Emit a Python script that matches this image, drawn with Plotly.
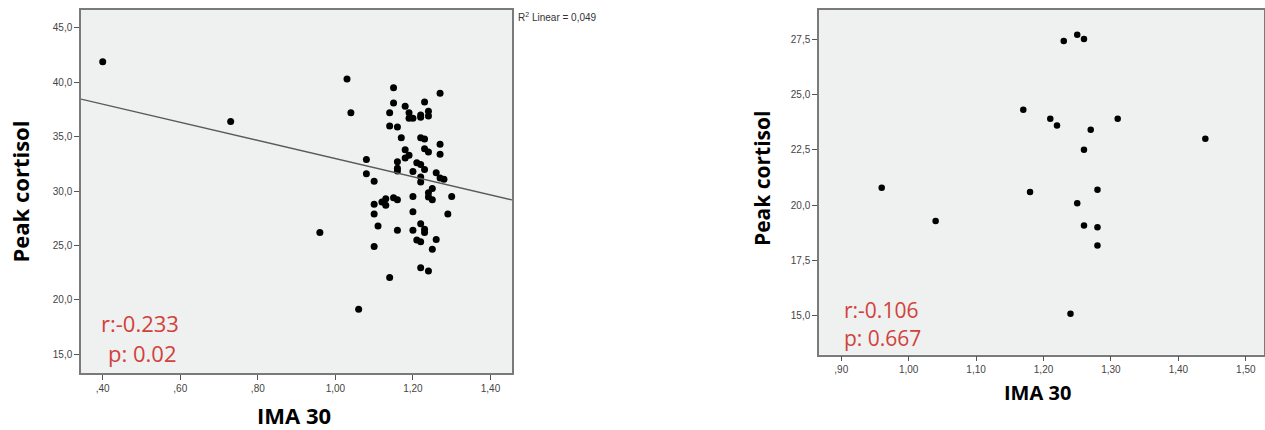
import numpy as np
import plotly.graph_objects as go

# ---------------- data: left panel (all patients) ----------------
left_ima = [0.40, 0.73, 0.96, 1.03, 1.04, 1.06, 1.08, 1.08, 1.10, 1.10,
            1.10, 1.10, 1.11, 1.12, 1.13, 1.13, 1.14, 1.14, 1.14, 1.15,
            1.15, 1.15, 1.16, 1.16, 1.16, 1.16, 1.16, 1.16, 1.17, 1.18,
            1.18, 1.18, 1.19, 1.19, 1.19, 1.20, 1.20, 1.20, 1.20, 1.20,
            1.21, 1.21, 1.22, 1.22, 1.22, 1.22, 1.22, 1.22, 1.22, 1.22,
            1.22, 1.23, 1.23, 1.23, 1.23, 1.23, 1.23, 1.24, 1.24, 1.24,
            1.24, 1.24, 1.24, 1.25, 1.25, 1.25, 1.26, 1.26, 1.27, 1.27,
            1.27, 1.27, 1.28, 1.29, 1.30]
left_cortisol = [41.9, 36.4, 26.2, 40.3, 37.2, 19.15, 32.9, 31.6, 30.9, 28.8,
                 27.9, 24.9, 26.8, 29.0, 29.3, 28.7, 37.2, 36.0, 22.05, 39.5,
                 38.1, 29.4, 35.9, 32.7, 32.1, 31.85, 29.2, 26.4, 34.9, 37.8,
                 33.8, 33.05, 37.2, 36.7, 33.3, 36.7, 31.8, 29.5, 28.1, 26.4,
                 32.6, 25.5, 37.0, 36.8, 34.9, 32.45, 31.3, 30.85, 27.0, 25.35,
                 22.95, 38.2, 34.8, 33.9, 32.0, 26.5, 26.2, 37.35, 36.9, 33.6,
                 29.85, 29.45, 22.65, 30.25, 29.2, 24.65, 31.7, 25.55, 39.0, 34.3,
                 33.4, 31.2, 31.1, 27.9, 29.5]

# ---------------- data: right panel (subgroup) ----------------
right_ima = [1.23, 1.25, 1.26, 1.17, 1.21, 1.22, 1.27, 1.31, 1.44, 1.26,
             0.96, 1.18, 1.28, 1.25, 1.04, 1.26, 1.28, 1.28, 1.24]
right_cortisol = [27.41, 27.69, 27.5, 24.31, 23.9, 23.6, 23.41, 23.9, 23.0, 22.5,
                  20.79, 20.59, 20.7, 20.09, 19.28, 19.08, 19.0, 18.18, 15.1]

# ---------------- ticks ----------------
left_xticks = [0.40, 0.60, 0.80, 1.00, 1.20, 1.40]
left_xticktext = [",40", ",60", ",80", "1,00", "1,20", "1,40"]
left_yticks = [15, 20, 25, 30, 35, 40, 45]
left_yticktext = ["15,0", "20,0", "25,0", "30,0", "35,0", "40,0", "45,0"]

right_xticks = [0.90, 1.00, 1.10, 1.20, 1.30, 1.40, 1.50]
right_xticktext = [",90", "1,00", "1,10", "1,20", "1,30", "1,40", "1,50"]
right_yticks = [15, 17.5, 20, 22.5, 25, 27.5]
right_yticktext = ["15,0", "17,5", "20,0", "22,5", "25,0", "27,5"]

left_stats = ["r:-0.233", "p: 0.02"]
right_stats = ["r:-0.106", "p: 0.667"]
fit_label = "R<sup>2</sup> Linear = 0,049"

W, H = 1265, 430
def px(x):
    return x / W
def py(y):
    return 1 - y / H

left_xrange = [0.344, 1.4555]
left_yrange = [13.28, 46.7]
right_xrange = [0.867, 1.527]
right_yrange = [13.25, 28.81]

# regression line from the left-panel data
slope, intercept = np.polyfit(left_ima, left_cortisol, 1)
fit_x = np.array(left_xrange)
fit_y = intercept + slope * fit_x

fig = go.Figure()
fig.add_trace(go.Scatter(x=left_ima, y=left_cortisol, mode="markers",
                         marker=dict(color="black", size=7),
                         xaxis="x", yaxis="y", showlegend=False))
fig.add_trace(go.Scatter(x=fit_x, y=fit_y, mode="lines",
                         line=dict(color="#5a5a5a", width=1.3),
                         xaxis="x", yaxis="y", showlegend=False))
fig.add_trace(go.Scatter(x=right_ima, y=right_cortisol, mode="markers",
                         marker=dict(color="black", size=6.5),
                         xaxis="x2", yaxis="y2", showlegend=False))

tickfont = dict(family="Liberation Sans, Arial, sans-serif", size=10, color="#444444")
axis_common = dict(showgrid=False, zeroline=False, showline=True, mirror=True,
                   linecolor="#7a7a7a", linewidth=1.5, ticks="outside", ticklen=5,
                   tickcolor="#555555", tickwidth=1, tickfont=tickfont)

fig.update_layout(
    width=W, height=H,
    margin=dict(l=0, r=0, t=0, b=0),
    paper_bgcolor="white",
    plot_bgcolor="#eff0f0",
    xaxis=dict(domain=[px(81), px(512)], range=left_xrange, tickvals=left_xticks,
               ticktext=left_xticktext, anchor="y", **axis_common),
    yaxis=dict(domain=[py(373), py(9.5)], range=left_yrange, tickvals=left_yticks,
               ticktext=left_yticktext, anchor="x", **axis_common),
    xaxis2=dict(domain=[px(819), px(1264)], range=right_xrange, tickvals=right_xticks,
                ticktext=right_xticktext, anchor="y2", **axis_common),
    yaxis2=dict(domain=[py(354.7), py(10)], range=right_yrange, tickvals=right_yticks,
                ticktext=right_yticktext, anchor="x2", **axis_common),
)

title_font = dict(family="Open Sans, sans-serif", size=22, color="black")
red_font = dict(family="Open Sans, sans-serif", size=22, color="#d2413b")

annotations = [
    dict(text="<b>Peak cortisol</b>", x=px(19), y=py(191.5), textangle=-90, font=title_font),
    dict(text="<b>Peak cortisol</b>", x=px(762), y=py(179), textangle=-90,
         font=dict(family="Open Sans, sans-serif", size=21, color="black")),
    dict(text="<b>IMA 30</b>", x=px(294), y=py(415), font=title_font),
    dict(text="<b>IMA 30</b>", x=px(1037.5), y=py(392),
         font=dict(family="Open Sans, sans-serif", size=20, color="black")),
    dict(text=left_stats[0], x=px(99), y=py(323), xanchor="left", font=red_font),
    dict(text=left_stats[1], x=px(106), y=py(353), xanchor="left", font=red_font),
    dict(text=right_stats[0], x=px(842), y=py(310), xanchor="left",
         font=dict(family="Open Sans, sans-serif", size=21, color="#d2413b")),
    dict(text=right_stats[1], x=px(842), y=py(338), xanchor="left",
         font=dict(family="Open Sans, sans-serif", size=21, color="#d2413b")),
    dict(text=fit_label, x=px(516), y=py(17), xanchor="left",
         font=dict(family="Liberation Sans, Arial, sans-serif", size=10, color="#333333")),
]
for a in annotations:
    a.setdefault("xanchor", "center")
    a.update(xref="paper", yref="paper", yanchor="middle", showarrow=False)
fig.update_layout(annotations=annotations)

fig.write_html("out.html", config={"displayModeBar": False},
               post_script="document.body.style.margin='0px';document.body.style.overflow='hidden';")
